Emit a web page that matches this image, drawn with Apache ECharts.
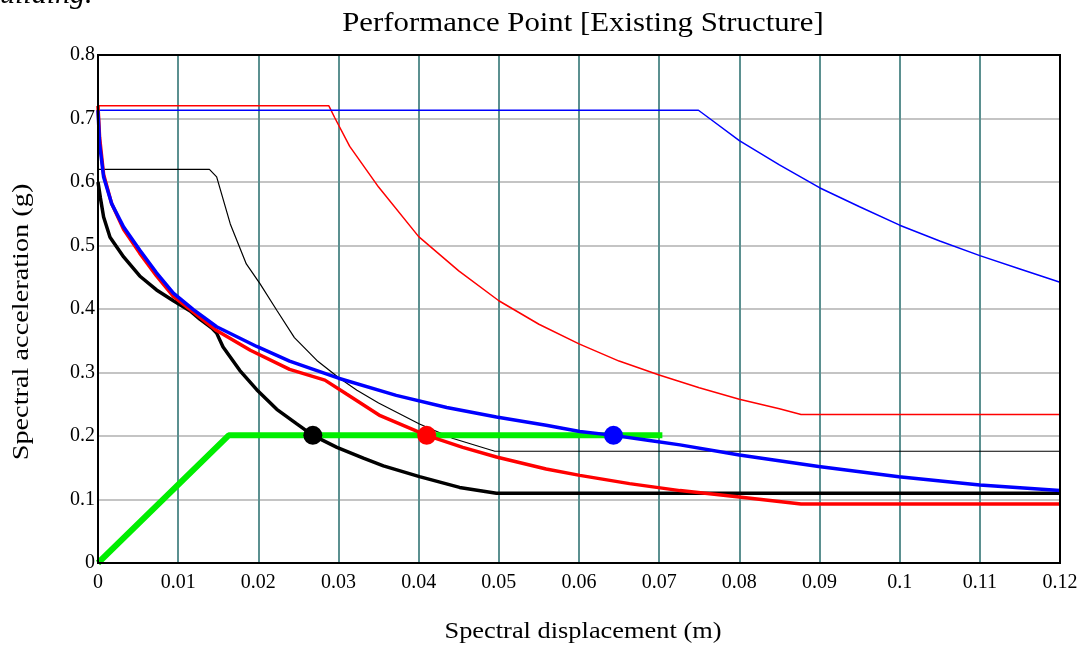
<!DOCTYPE html>
<html>
<head>
<meta charset="utf-8">
<script src="https://cdn.jsdelivr.net/npm/echarts@6/dist/echarts.min.js"></script>
<style>
html,body{margin:0;padding:0;background:#fff;}
#chart{width:1084px;height:646px;}
</style>
</head>
<body>
<div id="chart"></div>
<script>
// ---- data ----
var xTickLabels = ['0','0.01','0.02','0.03','0.04','0.05','0.06','0.07','0.08','0.09','0.1','0.11','0.12'];
var yTickLabels = ['0','0.1','0.2','0.3','0.4','0.5','0.6','0.7','0.8'];

// thin demand spectra
var redThin = [[0,0.72],[0.0288,0.72],[0.0295,0.702],[0.0314,0.656],[0.035,0.592],[0.040,0.514],[0.045,0.460],[0.050,0.413],[0.055,0.376],[0.060,0.345],[0.065,0.318],[0.070,0.296],[0.075,0.276],[0.080,0.258],[0.085,0.243],[0.0877,0.234],[0.12,0.234]];
var blueThin = [[0,0.713],[0.0749,0.713],[0.0765,0.698],[0.080,0.665],[0.085,0.627],[0.090,0.591],[0.095,0.561],[0.100,0.532],[0.105,0.507],[0.110,0.484],[0.115,0.463],[0.120,0.442]];
var blackThin = [[0,0.62],[0.0139,0.62],[0.0148,0.608],[0.0165,0.534],[0.0185,0.471],[0.0202,0.440],[0.0223,0.398],[0.0245,0.355],[0.0273,0.319],[0.030,0.292],[0.0323,0.272],[0.0350,0.252],[0.0401,0.219],[0.0443,0.196],[0.0495,0.176],[0.12,0.176]];

// thick reduced spectra
var blackThick = [[0,0.60],[0.0003,0.575],[0.0007,0.545],[0.0015,0.513],[0.0032,0.482],[0.0052,0.452],[0.0073,0.430],[0.0094,0.413],[0.0115,0.397],[0.0127,0.384],[0.0142,0.370],[0.0148,0.362],[0.0156,0.340],[0.0177,0.303],[0.0198,0.273],[0.0223,0.242],[0.0248,0.219],[0.0268,0.201],[0.0298,0.182],[0.0331,0.165],[0.0356,0.153],[0.0401,0.136],[0.0451,0.119],[0.0497,0.110],[0.12,0.110]];
var blueThick = [[0,0.713],[0.0002,0.66],[0.0007,0.608],[0.0017,0.566],[0.0032,0.529],[0.0052,0.493],[0.0073,0.457],[0.0094,0.425],[0.0119,0.399],[0.0148,0.372],[0.0198,0.341],[0.0239,0.318],[0.030,0.291],[0.0372,0.264],[0.0435,0.245],[0.0497,0.230],[0.0559,0.217],[0.0601,0.207],[0.0643,0.201],[0.0688,0.193],[0.0726,0.186],[0.080,0.170],[0.0899,0.152],[0.0999,0.136],[0.110,0.123],[0.120,0.114]];
var redThick = [[0,0.72],[0.0002,0.67],[0.0007,0.612],[0.0017,0.566],[0.0032,0.525],[0.0052,0.488],[0.0073,0.452],[0.0094,0.420],[0.0119,0.395],[0.0148,0.366],[0.019,0.335],[0.0239,0.305],[0.0283,0.288],[0.031,0.266],[0.0352,0.232],[0.041,0.201],[0.0455,0.182],[0.0497,0.167],[0.0559,0.148],[0.0601,0.138],[0.0663,0.125],[0.0726,0.114],[0.080,0.104],[0.0877,0.093],[0.12,0.093]];

// capacity curve and performance points
var capacity = [[0,0],[0.0163,0.201],[0.0704,0.201]];
var pointBlack = [[0.0268,0.201]];
var pointRed = [[0.041,0.201]];
var pointBlue = [[0.0643,0.201]];

var FONT = '"Liberation Serif","Times New Roman",serif';

function line(data, color, width, z) {
  return {type:'line', data:data, showSymbol:false, symbol:'none', smooth:false,
    lineStyle:{color:color, width:width}, z:z, silent:true, animation:false};
}
function pt(data, color) {
  return {type:'scatter', data:data, symbol:'circle', symbolSize:19,
    itemStyle:{color:color, opacity:1}, z:10, silent:true, animation:false};
}

var chart = echarts.init(document.getElementById('chart'), null, {renderer:'canvas'});
chart.setOption({
  animation:false,
  backgroundColor:'#fff',
  grid:{left:98, right:24, top:55, bottom:83, show:true, borderColor:'#000', borderWidth:2, backgroundColor:'transparent', z:5},
  xAxis:{type:'value', min:0, max:0.12, interval:0.01,
    axisLine:{show:false}, axisTick:{show:false},
    splitLine:{show:true, showMinLine:false, showMaxLine:false, lineStyle:{color:'#5b9090', width:2}},
    axisLabel:{fontFamily:FONT, fontSize:20, color:'#000', margin:10,
      formatter:function(v){return xTickLabels[Math.round(v/0.01)];}}},
  yAxis:{type:'value', min:0, max:0.8, interval:0.1,
    axisLine:{show:false}, axisTick:{show:false},
    splitLine:{show:true, showMinLine:false, showMaxLine:false, lineStyle:{color:'#c4c4c4', width:2}},
    axisLabel:{fontFamily:FONT, fontSize:20, color:'#000', margin:3,
      formatter:function(v){return yTickLabels[Math.round(v/0.1)];}}},
  series:[
    line(redThin,'#ff0000',1.5,2),
    line(blueThin,'#0000ff',1.5,2),
    line(blackThin,'#000000',1.2,2),
    line(capacity,'#00ee00',6,3),
    line(blackThick,'#000000',3.5,4),
    line(redThick,'#ff0000',3.5,4),
    line(blueThick,'#0000ff',3.5,4),
    pt(pointBlack,'#000000'),
    pt(pointRed,'#ff0000'),
    pt(pointBlue,'#0000ff')
  ],
  graphic:[
    {type:'text', x:583, y:24, scaleX:1.1, style:{text:'Performance Point [Existing Structure]', font:'28px '+FONT, fill:'#000', align:'center', verticalAlign:'middle'}},
    {type:'text', x:-15, y:-5, style:{text:'building.', font:'italic 30px '+FONT, fill:'#000', align:'left', verticalAlign:'middle'}},
    {type:'text', x:583, y:632, scaleX:1.1, style:{text:'Spectral displacement (m)', font:'24px '+FONT, fill:'#000', align:'center', verticalAlign:'middle'}},
    {type:'text', x:22, y:322, rotation:Math.PI/2, scaleX:1.18, style:{text:'Spectral acceleration (g)', font:'24px '+FONT, fill:'#000', align:'center', verticalAlign:'middle'}}
  ]
});
</script>
</body>
</html>
